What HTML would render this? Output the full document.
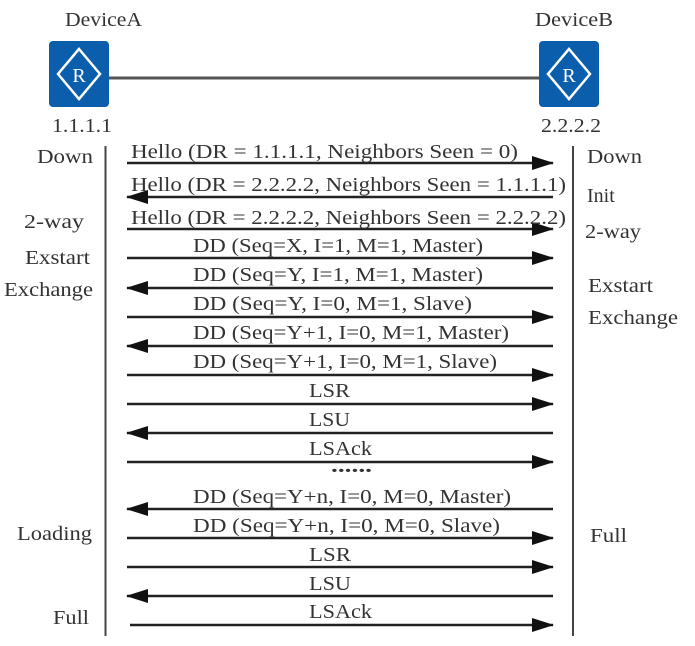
<!DOCTYPE html>
<html><head><meta charset="utf-8"><style>
html,body{margin:0;padding:0;background:#fff;}
svg{display:block;}
text{font-family:"Liberation Serif",serif;fill:#333;font-size:20px;}
</style></head><body>
<svg width="695" height="646" viewBox="0 0 695 646" xmlns="http://www.w3.org/2000/svg">
<defs>
<marker id="ar" markerWidth="22" markerHeight="14" refX="21" refY="7" orient="auto" markerUnits="userSpaceOnUse">
<path d="M0,0 L22,7 L0,14 Z" fill="#111"/>
</marker>
</defs>
<text x="65" y="26" textLength="77" lengthAdjust="spacingAndGlyphs" font-size="18">DeviceA</text>
<text x="535" y="26" textLength="78" lengthAdjust="spacingAndGlyphs" font-size="18">DeviceB</text>
<line x1="108" y1="78" x2="540" y2="78" stroke="#555" stroke-width="3"/>
<g>
<rect x="49" y="41" width="60" height="66" rx="4" fill="#0b5eab"/>
<path d="M79,49 L100,74 L79,99 L58,74 Z" fill="none" stroke="#fff" stroke-width="2.5"/>
<text x="79" y="82" text-anchor="middle" font-family="Liberation Sans" font-size="22" style="fill:#fff">R</text>
</g>
<g>
<rect x="539" y="41" width="60" height="66" rx="4" fill="#0b5eab"/>
<path d="M569,49 L590,74 L569,99 L548,74 Z" fill="none" stroke="#fff" stroke-width="2.5"/>
<text x="569" y="82" text-anchor="middle" font-family="Liberation Sans" font-size="22" style="fill:#fff">R</text>
</g>
<text x="52" y="132" textLength="60" lengthAdjust="spacingAndGlyphs">1.1.1.1</text>
<text x="541" y="132" textLength="60" lengthAdjust="spacingAndGlyphs">2.2.2.2</text>
<line x1="105.5" y1="146" x2="105.5" y2="636" stroke="#444" stroke-width="2"/>
<line x1="573" y1="146" x2="573" y2="636" stroke="#444" stroke-width="2"/>
<text x="37" y="163" textLength="56" lengthAdjust="spacingAndGlyphs">Down</text>
<text x="24" y="228" textLength="60" lengthAdjust="spacingAndGlyphs">2-way</text>
<text x="25" y="264" textLength="65" lengthAdjust="spacingAndGlyphs">Exstart</text>
<text x="4" y="296" textLength="89" lengthAdjust="spacingAndGlyphs">Exchange</text>
<text x="17" y="540" textLength="75" lengthAdjust="spacingAndGlyphs">Loading</text>
<text x="53" y="624" textLength="36" lengthAdjust="spacingAndGlyphs">Full</text>
<text x="587" y="163" textLength="55" lengthAdjust="spacingAndGlyphs">Down</text>
<text x="587" y="202">Init</text>
<text x="585" y="238" textLength="56" lengthAdjust="spacingAndGlyphs">2-way</text>
<text x="588" y="292" textLength="65" lengthAdjust="spacingAndGlyphs">Exstart</text>
<text x="588" y="324" textLength="90" lengthAdjust="spacingAndGlyphs">Exchange</text>
<text x="590" y="542" textLength="37" lengthAdjust="spacingAndGlyphs">Full</text>
<g stroke="#222" stroke-width="2.5">
<line x1="127" y1="163" x2="553" y2="163" marker-end="url(#ar)"/>
<line x1="553" y1="197" x2="127" y2="197" marker-end="url(#ar)"/>
<line x1="127" y1="229" x2="553" y2="229" marker-end="url(#ar)"/>
<line x1="127" y1="258" x2="553" y2="258" marker-end="url(#ar)"/>
<line x1="553" y1="288" x2="127" y2="288" marker-end="url(#ar)"/>
<line x1="127" y1="317" x2="553" y2="317" marker-end="url(#ar)"/>
<line x1="553" y1="346" x2="127" y2="346" marker-end="url(#ar)"/>
<line x1="127" y1="375" x2="553" y2="375" marker-end="url(#ar)"/>
<line x1="127" y1="404" x2="553" y2="404" marker-end="url(#ar)"/>
<line x1="553" y1="433" x2="127" y2="433" marker-end="url(#ar)"/>
<line x1="127" y1="462" x2="553" y2="462" marker-end="url(#ar)"/>
<line x1="553" y1="509" x2="127" y2="509" marker-end="url(#ar)"/>
<line x1="127" y1="538" x2="553" y2="538" marker-end="url(#ar)"/>
<line x1="127" y1="567" x2="553" y2="567" marker-end="url(#ar)"/>
<line x1="553" y1="596" x2="127" y2="596" marker-end="url(#ar)"/>
<line x1="130" y1="625" x2="553" y2="625" marker-end="url(#ar)"/>
</g>
<text x="131" y="158" textLength="387" lengthAdjust="spacingAndGlyphs">Hello (DR = 1.1.1.1, Neighbors Seen = 0)</text>
<text x="131" y="191" textLength="435" lengthAdjust="spacingAndGlyphs">Hello (DR = 2.2.2.2, Neighbors Seen = 1.1.1.1)</text>
<text x="131" y="224" textLength="435" lengthAdjust="spacingAndGlyphs">Hello (DR = 2.2.2.2, Neighbors Seen = 2.2.2.2)</text>
<text x="193" y="252" textLength="290" lengthAdjust="spacingAndGlyphs">DD (Seq=X, I=1, M=1, Master)</text>
<text x="193" y="281" textLength="290" lengthAdjust="spacingAndGlyphs">DD (Seq=Y, I=1, M=1, Master)</text>
<text x="193" y="310" textLength="279" lengthAdjust="spacingAndGlyphs">DD (Seq=Y, I=0, M=1, Slave)</text>
<text x="193" y="339" textLength="316" lengthAdjust="spacingAndGlyphs">DD (Seq=Y+1, I=0, M=1, Master)</text>
<text x="193" y="368" textLength="304" lengthAdjust="spacingAndGlyphs">DD (Seq=Y+1, I=0, M=1, Slave)</text>
<text x="309" y="397" textLength="41" lengthAdjust="spacingAndGlyphs">LSR</text>
<text x="309" y="426" textLength="41" lengthAdjust="spacingAndGlyphs">LSU</text>
<text x="309" y="455" textLength="63" lengthAdjust="spacingAndGlyphs">LSAck</text>
<text x="331" y="472" textLength="41" lengthAdjust="spacingAndGlyphs" font-weight="bold">......</text>
<text x="193" y="503" textLength="318" lengthAdjust="spacingAndGlyphs">DD (Seq=Y+n, I=0, M=0, Master)</text>
<text x="193" y="532" textLength="307" lengthAdjust="spacingAndGlyphs">DD (Seq=Y+n, I=0, M=0, Slave)</text>
<text x="309" y="561" textLength="42" lengthAdjust="spacingAndGlyphs">LSR</text>
<text x="309" y="590" textLength="42" lengthAdjust="spacingAndGlyphs">LSU</text>
<text x="309" y="618" textLength="63" lengthAdjust="spacingAndGlyphs">LSAck</text>
</svg>
</body></html>
